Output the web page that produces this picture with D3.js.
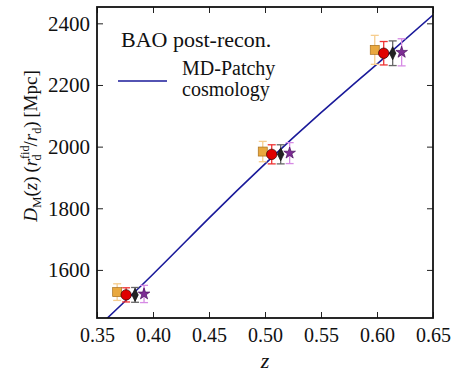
<!DOCTYPE html>
<html>
<head>
<meta charset="utf-8">
<script src="https://cdn.jsdelivr.net/npm/d3@7"></script>
<style>
  body { margin: 0; background: #fff; }
  svg text { font-family: "Liberation Serif", "DejaVu Serif", "Times New Roman", Times, serif !important; }
</style>
</head>
<body>
<svg id="chart" width="453" height="373"></svg>
<script>
// values
const zCenters = [0.38, 0.51, 0.61];
const zOffsets = [-0.012, -0.004, 0.004, 0.012];

const squareVals = [1528, 1984, 2314];
const squareErr = [27, 33, 47];
const circleVals = [1519, 1975, 2303];
const circleErr = [23, 31, 38];
const diamondVals = [1519, 1975, 2303];
const diamondErr = [24, 31, 40];
const starVals = [1522, 1979, 2306];
const starErr = [28, 34, 44];

// MD-Patchy cosmology D_M(z)
const lineZ = [0.35, 0.40, 0.45, 0.50, 0.55, 0.60, 0.65];
const lineDM = [1412, 1586, 1768, 1944, 2110, 2268, 2427];

const xTicks = [0.35, 0.40, 0.45, 0.50, 0.55, 0.60, 0.65];
const yTicks = [1600, 1800, 2000, 2200, 2400];

const margin = { left: 97, right: 20, top: 7, bottom: 55 };
const width = 453, height = 373;

const svg = d3.select("#chart");

const x = d3.scaleLinear().domain([0.35, 0.65]).range([margin.left, width - margin.right]);
const y = d3.scaleLinear().domain([1444, 2453]).range([height - margin.bottom, margin.top]);

// ticks on all four sides, pointing inward
const tickLen = 6;
svg.append("g")
  .attr("transform", `translate(0,${y.range()[0]})`)
  .call(d3.axisBottom(x).tickValues(xTicks).tickSize(-tickLen).tickPadding(10).tickFormat(d3.format(".2f")))
  .call(g => g.select(".domain").remove())
  .call(g => g.selectAll("text").attr("font-size", 20).attr("fill", "#111"));
svg.append("g")
  .attr("transform", `translate(0,${y.range()[1]})`)
  .call(d3.axisTop(x).tickValues(xTicks).tickSize(-tickLen).tickFormat(""))
  .call(g => g.select(".domain").remove());
svg.append("g")
  .attr("transform", `translate(${x.range()[0]},0)`)
  .call(d3.axisLeft(y).tickValues(yTicks).tickSize(-tickLen).tickPadding(7).tickFormat(d3.format("d")))
  .call(g => g.select(".domain").remove())
  .call(g => g.selectAll("text").attr("font-size", 21).attr("fill", "#111"));
svg.append("g")
  .attr("transform", `translate(${x.range()[1]},0)`)
  .call(d3.axisRight(y).tickValues(yTicks).tickSize(-tickLen).tickFormat(""))
  .call(g => g.select(".domain").remove());

svg.selectAll(".tick line").attr("stroke", "#222").attr("stroke-width", 1);

// clip for the model line
svg.append("clipPath").attr("id", "plotclip")
  .append("rect")
  .attr("x", x.range()[0]).attr("y", y.range()[1])
  .attr("width", x.range()[1] - x.range()[0])
  .attr("height", y.range()[0] - y.range()[1]);

const line = d3.line()
  .x((d, i) => x(lineZ[i]))
  .y(d => y(d))
  .curve(d3.curveNatural);

svg.append("path")
  .attr("clip-path", "url(#plotclip)")
  .attr("d", line(lineDM))
  .attr("fill", "none")
  .attr("stroke", "#1a1a9a")
  .attr("stroke-width", 1.6);

// data series
const series = [
  { vals: squareVals, err: squareErr, shape: "square", fill: "#e9a83e", edge: "#a8701e", errColor: "#f6cd8e" },
  { vals: circleVals, err: circleErr, shape: "circle", fill: "#e00000", edge: "#300", errColor: "#ee3333" },
  { vals: diamondVals, err: diamondErr, shape: "diamond", fill: "#222", edge: "#111", errColor: "#666" },
  { vals: starVals, err: starErr, shape: "star", fill: "#7d2c94", edge: "#4a1060", errColor: "#d68ae4" }
];

const capW = 4;
series.forEach((s, si) => {
  const g = svg.append("g");
  s.vals.forEach((v, i) => {
    const cx = x(zCenters[i] + zOffsets[si]);
    const y0 = y(v - s.err[i]), y1 = y(v + s.err[i]);
    g.append("line").attr("x1", cx).attr("x2", cx).attr("y1", y0).attr("y2", y1)
      .attr("stroke", s.errColor).attr("stroke-width", 1.3);
    [y0, y1].forEach(yy => g.append("line")
      .attr("x1", cx - capW).attr("x2", cx + capW).attr("y1", yy).attr("y2", yy)
      .attr("stroke", s.errColor).attr("stroke-width", 1.3));
  });
});

series.forEach((s, si) => {
  const g = svg.append("g");
  s.vals.forEach((v, i) => {
    const cx = x(zCenters[i] + zOffsets[si]);
    const cy = y(v);
    let mark;
    if (s.shape === "square") {
      mark = g.append("rect").attr("x", cx - 4.5).attr("y", cy - 4.5).attr("width", 9).attr("height", 9);
    } else if (s.shape === "circle") {
      mark = g.append("circle").attr("cx", cx).attr("cy", cy).attr("r", 5.2);
    } else if (s.shape === "diamond") {
      mark = g.append("path").attr("d", `M${cx},${cy - 6.5}L${cx + 3.2},${cy}L${cx},${cy + 6.5}L${cx - 3.2},${cy}Z`);
    } else {
      mark = g.append("path").attr("transform", `translate(${cx},${cy})`)
        .attr("d", d3.symbol(d3.symbolStar, 42)());
    }
    mark.attr("fill", s.fill).attr("stroke", s.edge).attr("stroke-width", 0.7);
  });
});

// frame
svg.append("rect")
  .attr("x", x.range()[0]).attr("y", y.range()[1])
  .attr("width", x.range()[1] - x.range()[0])
  .attr("height", y.range()[0] - y.range()[1])
  .attr("fill", "none").attr("stroke", "#111").attr("stroke-width", 1.8);

// legend
svg.append("text").attr("x", 121).attr("y", 47)
  .attr("font-size", 22).attr("fill", "#111").text("BAO post-recon.");
svg.append("line").attr("x1", 118).attr("x2", 167).attr("y1", 81).attr("y2", 81)
  .attr("stroke", "#1a1a9a").attr("stroke-width", 1.6);
svg.append("text").attr("x", 182).attr("y", 75)
  .attr("font-size", 20).attr("fill", "#111").text("MD-Patchy");
svg.append("text").attr("x", 182).attr("y", 96)
  .attr("font-size", 20).attr("fill", "#111").text("cosmology");

// axis labels
svg.append("text").attr("x", x(0.5)).attr("y", 368)
  .attr("text-anchor", "middle").attr("font-size", 22).attr("font-style", "italic")
  .attr("fill", "#111").text("z");

const yl = svg.append("text")
  .attr("transform", "translate(37,146) rotate(-90)")
  .attr("text-anchor", "middle").attr("font-size", 19).attr("fill", "#111");
yl.append("tspan").attr("font-style", "italic").text("D");
yl.append("tspan").attr("font-size", 13).attr("dy", 4).text("M");
yl.append("tspan").attr("dy", -4).text("(");
yl.append("tspan").attr("font-style", "italic").text("z");
yl.append("tspan").text(")\u2009(");
yl.append("tspan").attr("font-style", "italic").text("r");
yl.append("tspan").attr("font-size", 12).attr("dy", -8).text("fid");
yl.append("tspan").attr("font-size", 12).attr("dx", -15).attr("dy", 12).text("d");
yl.append("tspan").attr("dx", 8).attr("dy", -4).text("/");
yl.append("tspan").attr("font-style", "italic").text("r");
yl.append("tspan").attr("font-size", 12).attr("dy", 4).text("d");
yl.append("tspan").attr("dy", -4).text(")\u2009[Mpc]");
</script>
</body>
</html>
